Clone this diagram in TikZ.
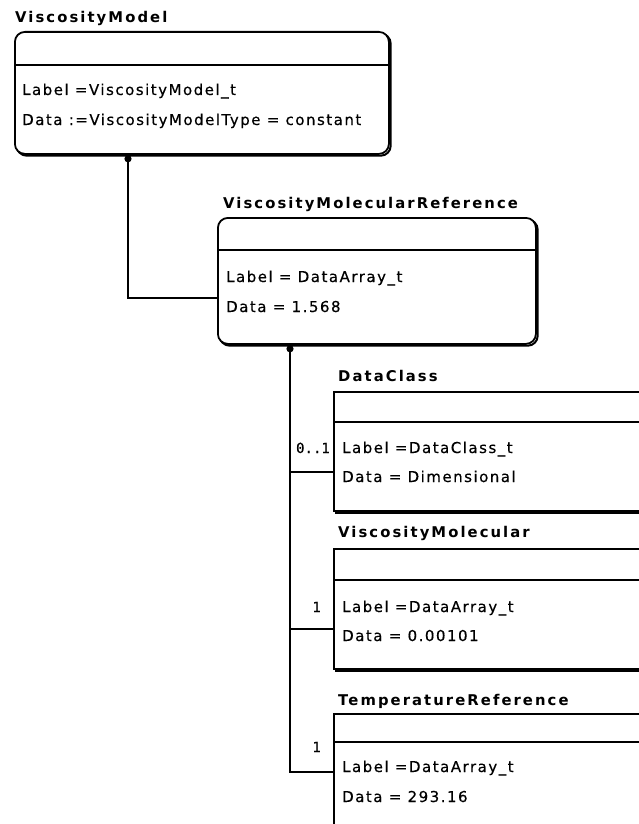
\documentclass[tikz,border=0pt]{standalone}
\usepackage{fontspec}
\newfontfamily\boxfont[LetterSpace=10,FakeBold=0.4]{DejaVu Sans}
\newfontfamily\titlefont[LetterSpace=14]{DejaVu Sans Bold}
\newfontfamily\multfont[FakeBold=0.4]{DejaVu Sans Mono}
\begin{document}
\begin{tikzpicture}[x=1pt,y=-1pt,
  umlbox/.style={draw, line width=1.8pt, fill=white, anchor=north west, inner sep=0pt,
    preaction={draw, line width=2pt, transform canvas={shift={(1.8pt,-1.8pt)}}}},
  roundbox/.style={umlbox, rounded corners=10pt},
  title/.style={anchor=base west, inner sep=0pt, font=\titlefont\fontsize{14.8}{17}\selectfont},
  field/.style={anchor=base west, inner sep=0pt, font=\boxfont\fontsize{15}{17}\selectfont},
  mult/.style={anchor=base east, inner sep=0pt, font=\multfont\fontsize{14}{17}\selectfont},
  divider/.style={line width=1.5pt},
  conn/.style={line width=1.5pt},
  knob/.style={fill=black}]
\useasboundingbox (0,0) rectangle (639,824);
\fill[white] (0,0) rectangle (639,824);

% ---- ViscosityModel ----
\node[title] (t1) at (15,23) {ViscosityModel};
\node[roundbox, minimum width=374pt, minimum height=122pt] (vm) at (14,31) {};
\draw[divider] (vm.west |- 0,65) -- (vm.east |- 0,65);
\node[field] (vm1) at (22,95) {Label =ViscosityModel\_t};
\node[field] (vm2) at (22,125) {Data :=ViscosityModelType = constant};

% ---- ViscosityMolecularReference ----
\node[title] (t2) at (223,208) {ViscosityMolecularReference};
\node[roundbox, minimum width=318pt, minimum height=126pt] (vmr) at (217,217) {};
\draw[divider] (vmr.west |- 0,250) -- (vmr.east |- 0,250);
\node[field] (vmr1) at (226,282) {Label = DataArray\_t};
\node[field] (vmr2) at (226,312) {Data = 1.568};

% connector ViscosityModel -> ViscosityMolecularReference
\coordinate (k1) at (vm.south -| 128,0);
\draw[conn] (k1) |- (vmr.west |- 0,298);
\fill[knob] ([yshift=-4pt]k1) circle (3.6pt);

% ---- child boxes, open to the right ----
\begin{scope}
\clip (0,0) rectangle (639,824);

\node[title] (t3) at (338,381) {DataClass};
\node[umlbox, minimum width=330pt, minimum height=119pt] (dc) at (333,391) {};
\draw[divider] (dc.west |- 0,422) -- (dc.east |- 0,422);
\node[field] (dc1) at (342,453) {Label =DataClass\_t};
\node[field] (dc2) at (342,482) {Data = Dimensional};

\node[title] (t4) at (338,537) {ViscosityMolecular};
\node[umlbox, minimum width=330pt, minimum height=120pt] (vmo) at (333,548) {};
\draw[divider] (vmo.west |- 0,580) -- (vmo.east |- 0,580);
\node[field] (vmo1) at (342,612) {Label =DataArray\_t};
\node[field] (vmo2) at (342,641) {Data = 0.00101};

\node[title] (t5) at (338,705) {TemperatureReference};
\node[umlbox, minimum width=330pt, minimum height=140pt] (tr) at (333,713) {};
\draw[divider] (tr.west |- 0,742) -- (tr.east |- 0,742);
\node[field] (tr1) at (342,772) {Label =DataArray\_t};
\node[field] (tr2) at (342,802) {Data = 293.16};
\end{scope}

% connectors ViscosityMolecularReference -> children
\coordinate (k2) at (vmr.south -| 290,0);
\draw[conn] (k2) |- (tr.west |- 0,772);
\draw[conn] (k2 |- 0,472) -- (dc.west |- 0,472);
\draw[conn] (k2 |- 0,629) -- (vmo.west |- 0,629);
\fill[knob] ([yshift=-4pt]k2) circle (3.6pt);

\node[mult] (m1) at (330,453) {0..1};
\node[mult] (m2) at (321,612) {1};
\node[mult] (m3) at (321,752) {1};
\end{tikzpicture}
\end{document}
